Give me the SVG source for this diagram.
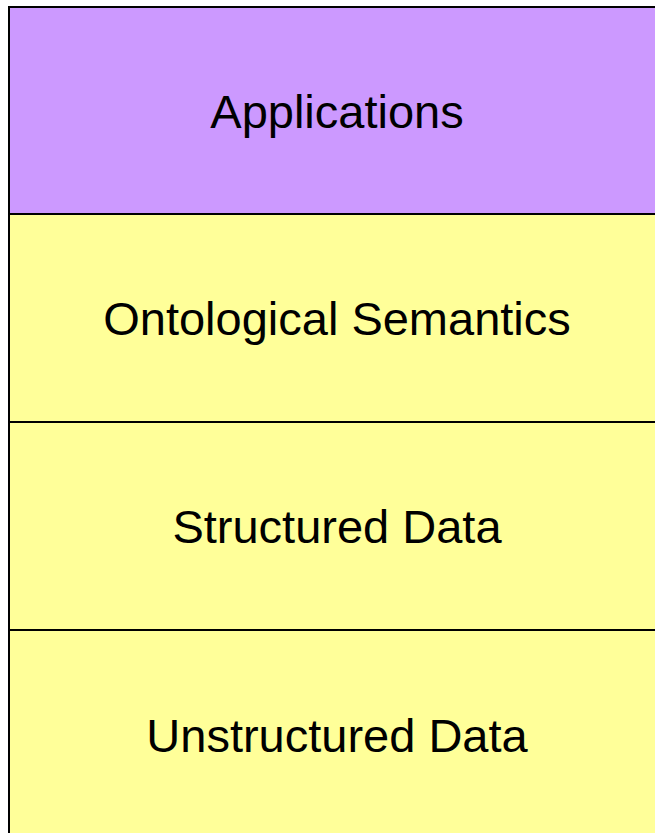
<svg xmlns="http://www.w3.org/2000/svg" width="655" height="833" viewBox="0 0 655 833">
<style>
.layer{stroke:#000;stroke-width:2}
.label{font-family:"Liberation Sans",Arial,sans-serif;font-size:47px;fill:#000;text-anchor:middle}
</style>
<rect width="655" height="833" fill="#fff"/>
<g id="applications">
<rect class="layer" x="9" y="7" width="660" height="207" fill="#CC99FF"/>
<text class="label" x="337" y="128">Applications</text>
</g>
<g id="ontological-semantics">
<rect class="layer" x="9" y="214" width="660" height="208" fill="#FFFF99"/>
<text class="label" x="337" y="335">Ontological Semantics</text>
</g>
<g id="structured-data">
<rect class="layer" x="9" y="422" width="660" height="208" fill="#FFFF99"/>
<text class="label" x="337" y="543">Structured Data</text>
</g>
<g id="unstructured-data">
<rect class="layer" x="9" y="630" width="660" height="220" fill="#FFFF99"/>
<text class="label" x="337" y="752">Unstructured Data</text>
</g>
<g id="connectors"/>
</svg>
